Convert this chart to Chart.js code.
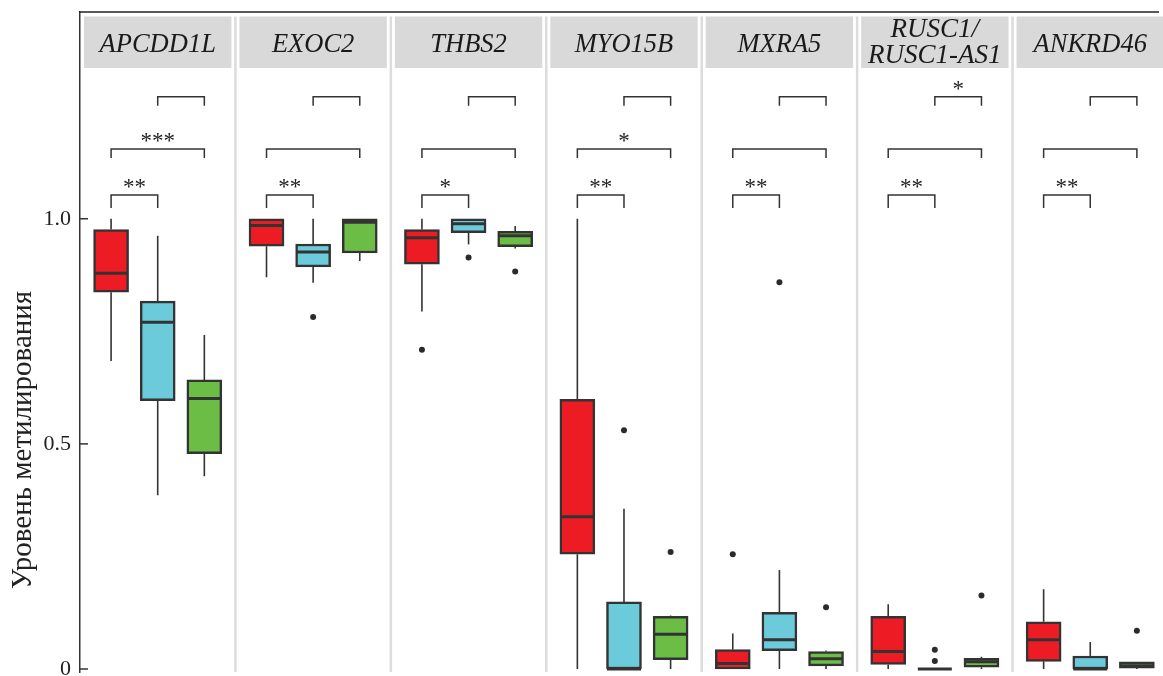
<!DOCTYPE html>
<html>
<head>
<meta charset="utf-8">
<script src="https://cdn.jsdelivr.net/npm/chart.js@4.4.0/dist/chart.umd.min.js"></script>
<style>
  html, body { margin: 0; padding: 0; background: #fff; overflow: hidden; }
  canvas { display: block; }
</style>
</head>
<body>
<canvas id="myChart" width="1163" height="676"></canvas>
<script>
// genes (facets)
const genes = ["APCDD1L", "EXOC2", "THBS2", "MYO15B", "MXRA5", ["RUSC1/", "RUSC1-AS1"], "ANKRD46"];

// five-number summaries per gene: [low whisker, Q1, median, Q3, high whisker]
const redStats = [
  [0.684, 0.837, 0.879, 0.976, 1.0],
  [0.870, 0.939, 0.985, 1.0, 1.0],
  [0.794, 0.899, 0.958, 0.976, 1.0],
  [0.0, 0.255, 0.338, 0.599, 1.0],
  [0.0, 0.0, 0.012, 0.043, 0.079],
  [0.0, 0.010, 0.039, 0.117, 0.144],
  [0.0, 0.017, 0.065, 0.105, 0.177],
];
const cyanStats = [
  [0.386, 0.596, 0.770, 0.817, 0.962],
  [0.858, 0.893, 0.926, 0.944, 1.0],
  [0.943, 0.969, 0.989, 1.0, 1.0],
  [0.0, 0.0, 0.0, 0.149, 0.356],
  [0.0, 0.041, 0.065, 0.126, 0.220],
  [0.0, 0.0, 0.0, 0.0, 0.0],
  [0.0, 0.0, 0.0, 0.029, 0.060],
];
const greenStats = [
  [0.428, 0.478, 0.601, 0.642, 0.742],
  [0.906, 0.924, 0.992, 1.0, 1.0],
  [0.934, 0.938, 0.962, 0.972, 0.984],
  [0.0, 0.021, 0.077, 0.117, 0.119],
  [0.0, 0.007, 0.023, 0.039, 0.041],
  [0.0, 0.004, 0.016, 0.024, 0.027],
  [0.0, 0.002, 0.007, 0.016, 0.016],
];

// outliers: [gene index, value]
const redOutliers = [[2, 0.709], [4, 0.255]];
const cyanOutliers = [[1, 0.782], [2, 0.914], [3, 0.530], [4, 0.859], [5, 0.043], [5, 0.018]];
const greenOutliers = [[2, 0.883], [3, 0.260], [4, 0.137], [5, 0.163], [6, 0.085]];

// significance labels for each comparison
const sigRedCyan = ["**", "**", "*", "**", "**", "**", "**"];
const sigRedGreen = ["***", "", "", "*", "", "", ""];
const sigCyanGreen = ["", "", "", "", "", "*", ""];

const yTicks = [0, 0.5, 1.0];
const yTitle = "Уровень метилирования";

const colors = ["#ED1C24", "#6BCBDB", "#6BBD45"];
const offsets = [-0.3, 0, 0.3];
const ink = "#333333";
const serif = "'Liberation Serif', 'DejaVu Serif', serif";

function boxData(stats, g) {
  return stats.map((s, i) => ({ x: i + 0.5 + offsets[g], y: [s[1], s[3]] }));
}
function outlierData(list, g) {
  return list.map(o => ({ x: o[0] + 0.5 + offsets[g], y: o[1] }));
}

const allStats = [redStats, cyanStats, greenStats];

const boxPlugin = {
  id: "boxExtras",
  beforeDatasetsDraw(chart) {
    const { ctx, chartArea, scales: { x, y } } = chart;
    ctx.save();
    // facet strips
    for (let i = 0; i < genes.length; i++) {
      const l = x.getPixelForValue(i) + 4;
      const r = x.getPixelForValue(i + 1) - 4;
      ctx.fillStyle = "#d9d9d9";
      ctx.fillRect(l, chartArea.top + 4.5, r - l, 51.5);
      ctx.fillStyle = "#1a1a1a";
      ctx.textAlign = "center";
      ctx.textBaseline = "alphabetic";
      const cx = (l + r) / 2;
      if (Array.isArray(genes[i])) {
        ctx.font = "italic 27px " + serif;
        ctx.fillText(genes[i][0], cx, chartArea.top + 25);
        ctx.fillText(genes[i][1], cx, chartArea.top + 50.5);
      } else {
        ctx.font = "italic 26.5px " + serif;
        ctx.fillText(genes[i], cx, chartArea.top + 40);
      }
    }
    // facet separators
    ctx.strokeStyle = "#dcdcdc";
    ctx.lineWidth = 2.5;
    for (let i = 1; i < genes.length; i++) {
      const px = x.getPixelForValue(i);
      ctx.beginPath();
      ctx.moveTo(px, chartArea.top + 4.5);
      ctx.lineTo(px, chartArea.bottom);
      ctx.stroke();
    }
    // whiskers
    ctx.strokeStyle = ink;
    ctx.lineWidth = 1.6;
    allStats.forEach((stats, g) => {
      stats.forEach((s, i) => {
        const px = x.getPixelForValue(i + 0.5 + offsets[g]);
        ctx.beginPath();
        ctx.moveTo(px, y.getPixelForValue(s[0]));
        ctx.lineTo(px, y.getPixelForValue(s[1]));
        ctx.moveTo(px, y.getPixelForValue(s[3]));
        ctx.lineTo(px, y.getPixelForValue(s[4]));
        ctx.stroke();
      });
    });
    ctx.restore();
  },
  afterDatasetsDraw(chart) {
    const { ctx, chartArea, scales: { x, y } } = chart;
    ctx.save();
    // medians
    ctx.strokeStyle = ink;
    ctx.lineWidth = 3;
    allStats.forEach((stats, g) => {
      stats.forEach((s, i) => {
        const px = x.getPixelForValue(i + 0.5 + offsets[g]);
        const py = y.getPixelForValue(s[2]);
        ctx.beginPath();
        ctx.moveTo(px - 17, py);
        ctx.lineTo(px + 17, py);
        ctx.stroke();
      });
    });
    // significance brackets
    const brackets = [
      { a: 0, b: 1, top: 1.053, foot: 1.024, labels: sigRedCyan },
      { a: 0, b: 2, top: 1.155, foot: 1.135, labels: sigRedGreen },
      { a: 1, b: 2, top: 1.271, foot: 1.251, labels: sigCyanGreen },
    ];
    ctx.lineWidth = 1.5;
    ctx.strokeStyle = ink;
    ctx.fillStyle = "#222";
    ctx.font = "23px " + serif;
    ctx.textAlign = "center";
    ctx.textBaseline = "alphabetic";
    for (let i = 0; i < genes.length; i++) {
      brackets.forEach(br => {
        const x1 = x.getPixelForValue(i + 0.5 + offsets[br.a]);
        const x2 = x.getPixelForValue(i + 0.5 + offsets[br.b]);
        const yt = y.getPixelForValue(br.top);
        const yf = y.getPixelForValue(br.foot);
        ctx.beginPath();
        ctx.moveTo(x1, yf);
        ctx.lineTo(x1, yt);
        ctx.lineTo(x2, yt);
        ctx.lineTo(x2, yf);
        ctx.stroke();
        if (br.labels[i]) ctx.fillText(br.labels[i], (x1 + x2) / 2, yt - 1);
      });
    }
    // top border
    ctx.strokeStyle = "#222";
    ctx.lineWidth = 1.5;
    ctx.beginPath();
    ctx.moveTo(chartArea.left - 1, chartArea.top);
    ctx.lineTo(chartArea.right, chartArea.top);
    ctx.stroke();
    // inward y ticks
    ctx.strokeStyle = ink;
    yTicks.forEach(v => {
      const py = y.getPixelForValue(v);
      ctx.beginPath();
      ctx.moveTo(chartArea.left, py);
      ctx.lineTo(chartArea.left + 8, py);
      ctx.stroke();
    });
    // y title
    ctx.translate(23, 440);
    ctx.rotate(-Math.PI / 2);
    ctx.fillStyle = "#222";
    ctx.font = "29px " + serif;
    ctx.textAlign = "center";
    ctx.textBaseline = "middle";
    ctx.fillText(yTitle, 0, 0);
    ctx.restore();
  },
};

const datasets = allStats.map((stats, g) => ({
  type: "bar",
  data: boxData(stats, g),
  backgroundColor: colors[g],
  borderColor: ink,
  borderWidth: 2.5,
  borderSkipped: false,
  barThickness: 35,
  grouped: false,
  order: 2,
}));
[redOutliers, cyanOutliers, greenOutliers].forEach((list, g) => {
  datasets.push({
    type: "scatter",
    data: outlierData(list, g),
    pointRadius: 3,
    pointBackgroundColor: "#2b2b2b",
    pointBorderWidth: 0,
    showLine: false,
    order: 1,
  });
});

const config = {
  type: "bar",
  data: { datasets },
  options: {
    responsive: false,
    animation: false,
    devicePixelRatio: 1,
    layout: { padding: { top: 12, left: 0, right: 0, bottom: 0 } },
    plugins: { legend: { display: false }, tooltip: { enabled: false } },
    scales: {
      x: { type: "linear", offset: false, min: 0, max: (1163 - 80) / 156, display: false },
      y: {
        type: "linear",
        min: -3 / 453,
        max: (676 - 12) / 453 - 3 / 453,
        afterFit: s => {
          s.width = 80;
          s.paddingTop = 0;
          s.paddingBottom = 0;
        },
        afterBuildTicks: s => { s.ticks = yTicks.map(v => ({ value: v })); },
        grid: { display: false, drawTicks: false },
        border: { display: true, color: ink, width: 1.5 },
        ticks: {
          padding: 9,
          color: "#222",
          font: { family: "Liberation Serif", size: 22 },
          callback: v => (v === 0 ? "0" : v.toFixed(1)),
        },
      },
    },
  },
  plugins: [boxPlugin],
};

new Chart(document.getElementById("myChart"), config);
</script>
</body>
</html>
